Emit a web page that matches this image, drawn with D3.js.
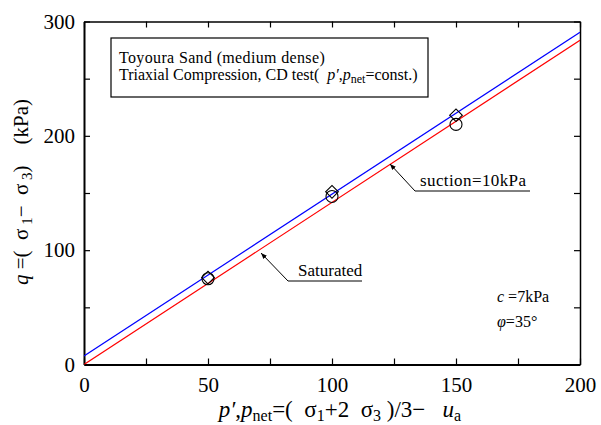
<!DOCTYPE html>
<html>
<head>
<meta charset="utf-8">
<script src="https://cdn.jsdelivr.net/npm/d3@7"></script>
<style>
  html, body { margin: 0; padding: 0; background: #fff; }
  svg, svg text { font-family: "Liberation Serif", "Times New Roman", Times, "DejaVu Serif", serif; }
  svg text { white-space: pre; }
</style>
</head>
<body>
<svg id="chart" width="601" height="425"></svg>
<script>
// Measured points: saturated (circles) and suction = 10 kPa (diamonds)
const pSaturated = [50, 100, 150];
const qSaturated = [75, 147, 210];
const pSuction = [50, 100, 150];
const qSuction = [76, 151, 218];

// Failure lines (c = 7 kPa, phi = 35 deg), given by their end points
const lineSaturatedP = [0, 200];
const lineSaturatedQ = [0, 283.6];
const lineSuctionP = [0, 200];
const lineSuctionQ = [7.4, 290.6];

// Axis ticks
const xMajorTicks = [0, 50, 100, 150, 200];
const xMinorTicks = [25, 75, 125, 175];
const yMajorTicks = [0, 100, 200, 300];
const yMinorTicks = [50, 150, 250];

const FONT = "'Liberation Serif', 'Times New Roman', Times, 'DejaVu Serif', serif";

const svg = d3.select("#chart");
const mLeft = 84, mRight = 580, mTop = 21.5, mBottom = 364.5;

const x = d3.scaleLinear().domain([0, 200]).range([mLeft, mRight]);
const y = d3.scaleLinear().domain([0, 300]).range([mBottom, mTop]);

const tickLen = 6;

// Bottom axis with inward ticks and labels
const xAxis = d3.axisBottom(x).tickValues(xMajorTicks.concat(xMinorTicks))
  .tickSizeInner(-tickLen).tickSizeOuter(0)
  .tickFormat(d => xMajorTicks.includes(d) ? d : "");
const gx = svg.append("g").attr("transform", `translate(0,${mBottom})`).call(xAxis);
gx.attr("font-family", FONT).attr("font-size", 21);
gx.selectAll("text").attr("fill", "#000").attr("y", 10).attr("dy", "0.85em");

// Top axis (ticks only)
const xTop = d3.axisTop(x).tickValues(xMajorTicks.concat(xMinorTicks))
  .tickSizeInner(-tickLen).tickSizeOuter(0).tickFormat("");
svg.append("g").attr("transform", `translate(0,${mTop})`).call(xTop);

// Left axis
const yAxis = d3.axisLeft(y).tickValues(yMajorTicks.concat(yMinorTicks))
  .tickSizeInner(-tickLen).tickSizeOuter(0)
  .tickFormat(d => yMajorTicks.includes(d) ? d : "");
const gy = svg.append("g").attr("transform", `translate(${mLeft},0)`).call(yAxis);
gy.attr("font-family", FONT).attr("font-size", 21);
gy.selectAll("text").attr("fill", "#000").attr("x", -9);

// Right axis (ticks only)
const yRight = d3.axisRight(y).tickValues(yMajorTicks.concat(yMinorTicks))
  .tickSizeInner(-tickLen).tickSizeOuter(0).tickFormat("");
svg.append("g").attr("transform", `translate(${mRight},0)`).call(yRight);

svg.selectAll(".domain").attr("stroke", "#000").attr("stroke-width", 1.5);
svg.selectAll(".tick line").attr("stroke", "#000").attr("stroke-width", 1.2);
gy.select(".domain").attr("stroke-width", 2);
gx.select(".domain").attr("stroke-width", 2);

// Clip for lines inside plot
svg.append("clipPath").attr("id", "plotClip")
  .append("rect").attr("x", mLeft).attr("y", mTop).attr("width", mRight - mLeft).attr("height", mBottom - mTop);

const line = d3.line().x(d => x(d[0])).y(d => y(d[1]));
const plot = svg.append("g").attr("clip-path", "url(#plotClip)");

plot.append("path").datum(d3.zip(lineSuctionP, lineSuctionQ))
  .attr("d", line).attr("fill", "none").attr("stroke", "#0000ff").attr("stroke-width", 1.2);
plot.append("path").datum(d3.zip(lineSaturatedP, lineSaturatedQ))
  .attr("d", line).attr("fill", "none").attr("stroke", "#ff0000").attr("stroke-width", 1.2);

// Markers
svg.append("g").selectAll("path").data(d3.zip(pSuction, qSuction)).join("path")
  .attr("d", d3.symbol().type(d3.symbolSquare).size(80))
  .attr("transform", d => `translate(${x(d[0])},${y(d[1])}) rotate(45)`)
  .attr("fill", "none").attr("stroke", "#000").attr("stroke-width", 1.1);
svg.append("g").selectAll("circle").data(d3.zip(pSaturated, qSaturated)).join("circle")
  .attr("cx", d => x(d[0])).attr("cy", d => y(d[1])).attr("r", 6)
  .attr("fill", "none").attr("stroke", "#000").attr("stroke-width", 1.1);

// Arrowhead for leader lines
svg.append("defs").append("marker").attr("id", "arrow")
  .attr("viewBox", "0 0 10 10").attr("refX", 10).attr("refY", 5)
  .attr("markerWidth", 6).attr("markerHeight", 6).attr("orient", "auto-start-reverse")
  .append("path").attr("d", "M0,1 L10,5 L0,9 z").attr("fill", "#000");

// Description box (drawn before the text layer)
svg.append("rect").attr("x", 111).attr("y", 38).attr("width", 317).attr("height", 59)
  .attr("fill", "#fff").attr("stroke", "#000").attr("stroke-width", 1.2);

const txt = svg.append("g").attr("font-family", FONT).attr("fill", "#000");

// Leader: suction line
svg.append("path").attr("d", "M530,191 L415,191 L390,164")
  .attr("fill", "none").attr("stroke", "#000").attr("stroke-width", 1)
  .attr("marker-end", "url(#arrow)");
txt.append("text").attr("x", 420).attr("y", 186).attr("font-size", 17)
  .attr("letter-spacing", 0.4).text("suction=10kPa");

// Leader: saturated line
svg.append("path").attr("d", "M362,281 L288,281 L261,253")
  .attr("fill", "none").attr("stroke", "#000").attr("stroke-width", 1)
  .attr("marker-end", "url(#arrow)");
txt.append("text").attr("x", 298).attr("y", 276).attr("font-size", 17).text("Saturated");

// Strength parameters
const cText = txt.append("text").attr("x", 497).attr("y", 302).attr("font-size", 16);
cText.append("tspan").attr("font-style", "italic").text("c");
cText.append("tspan").text(" =7kPa");
const phiText = txt.append("text").attr("x", 497).attr("y", 327).attr("font-size", 16);
phiText.append("tspan").attr("font-style", "italic").text("φ");
phiText.append("tspan").text("=35°");

// Description text
txt.append("text").attr("x", 119).attr("y", 63).attr("font-size", 16)
  .attr("letter-spacing", 0.35).text("Toyoura Sand (medium dense)");
const l2 = txt.append("text").attr("x", 119).attr("y", 80).attr("font-size", 16);
l2.append("tspan").text("Triaxial Compression, CD test(  ");
l2.append("tspan").attr("font-style", "italic").text("p′");
l2.append("tspan").text(",");
l2.append("tspan").attr("font-style", "italic").text("p");
l2.append("tspan").attr("font-size", 12).attr("dy", 3).text("net");
l2.append("tspan").attr("dy", -3).text("=const.)");

// X axis title
const xt = txt.append("text").attr("x", 340).attr("y", 417).attr("font-size", 23)
  .attr("text-anchor", "middle");
xt.append("tspan").attr("font-style", "italic").text("p′");
xt.append("tspan").text(",");
xt.append("tspan").attr("font-style", "italic").text("p");
xt.append("tspan").attr("font-size", 16).attr("dy", 4).text("net");
xt.append("tspan").attr("dy", -4).text("=(  σ");
xt.append("tspan").attr("font-size", 16).attr("dy", 4).text("1");
xt.append("tspan").attr("dy", -4).text("+2  σ");
xt.append("tspan").attr("font-size", 16).attr("dy", 4).text("3");
xt.append("tspan").attr("dy", -4).text(" )/3−   ");
xt.append("tspan").attr("font-style", "italic").text("u");
xt.append("tspan").attr("font-size", 16).attr("dy", 4).text("a");

// Y axis title
const yt = txt.append("text").attr("transform", "translate(28,192) rotate(-90)")
  .attr("font-size", 21).attr("text-anchor", "middle");
yt.append("tspan").attr("font-style", "italic").text("q");
yt.append("tspan").text(" =(  σ");
yt.append("tspan").attr("font-size", 15).attr("dy", 4).text(" 1");
yt.append("tspan").attr("dy", -4).text("−  σ");
yt.append("tspan").attr("font-size", 15).attr("dy", 4).text(" 3");
yt.append("tspan").attr("dy", -4).text(")    (kPa)");
</script>
</body>
</html>
